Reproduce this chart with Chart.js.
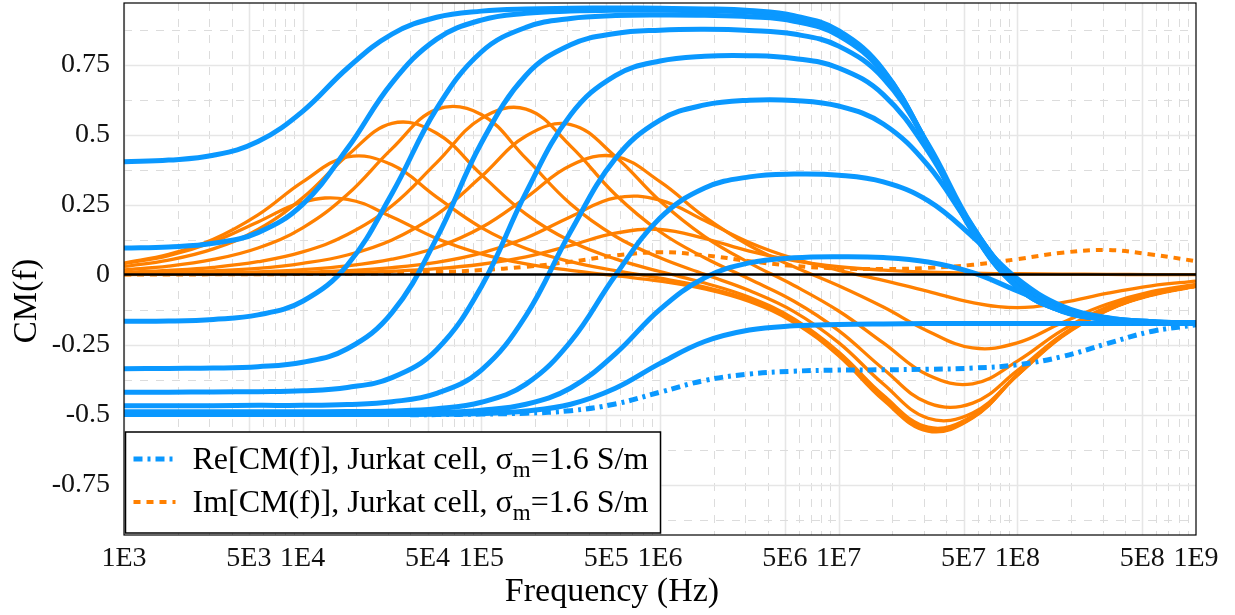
<!DOCTYPE html>
<html>
<head>
<meta charset="utf-8">
<script src="https://cdn.jsdelivr.net/npm/chart.js@4.4.1/dist/chart.umd.min.js"></script>
<style>
  html, body { margin: 0; padding: 0; background: #fff; }
  #wrap { width: 1235px; height: 615px; }
</style>
</head>
<body>
<div id="wrap"><canvas id="cmChart"></canvas></div>
<script>
// frequency samples, quarter decades from 1E3 to 1E9 (Hz)
const freq = [1e3, 1778, 3162, 5623, 1e4, 17783, 31623, 56234, 1e5, 177828, 316228, 562341,
  1e6, 1778279, 3162278, 5623413, 1e7, 17782794, 31622777, 56234133, 1e8, 177827941, 316227766, 562341325, 1e9];

// Re[CM(f)], solid blue curves
const re1 = [0.403, 0.409, 0.426, 0.475, 0.583, 0.737, 0.859, 0.919, 0.941, 0.949, 0.951, 0.952, 0.951, 0.949, 0.943, 0.925, 0.871, 0.731, 0.461, 0.152, -0.046, -0.131, -0.161, -0.170, -0.174];
const re2 = [0.095, 0.099, 0.112, 0.150, 0.251, 0.450, 0.685, 0.841, 0.909, 0.933, 0.941, 0.944, 0.944, 0.942, 0.937, 0.919, 0.866, 0.728, 0.462, 0.155, -0.045, -0.130, -0.160, -0.170, -0.174];
const re3 = [-0.167, -0.166, -0.160, -0.144, -0.095, 0.034, 0.290, 0.593, 0.795, 0.883, 0.915, 0.925, 0.927, 0.926, 0.921, 0.905, 0.854, 0.720, 0.460, 0.156, -0.044, -0.130, -0.160, -0.170, -0.174];
const re4 = [-0.336, -0.335, -0.334, -0.329, -0.313, -0.265, -0.136, 0.130, 0.470, 0.712, 0.821, 0.861, 0.873, 0.876, 0.872, 0.859, 0.816, 0.701, 0.466, 0.172, -0.033, -0.126, -0.159, -0.170, -0.173];
const re5 = [-0.420, -0.420, -0.419, -0.418, -0.415, -0.403, -0.368, -0.268, -0.043, 0.293, 0.571, 0.711, 0.763, 0.780, 0.782, 0.772, 0.738, 0.643, 0.441, 0.170, -0.030, -0.124, -0.158, -0.170, -0.173];
const re6 = [-0.468, -0.468, -0.468, -0.467, -0.467, -0.464, -0.454, -0.424, -0.341, -0.146, 0.154, 0.414, 0.552, 0.606, 0.623, 0.622, 0.602, 0.538, 0.390, 0.164, -0.026, -0.121, -0.157, -0.169, -0.173];
const re7 = [-0.490, -0.490, -0.490, -0.490, -0.490, -0.489, -0.487, -0.479, -0.456, -0.391, -0.239, -0.003, 0.202, 0.309, 0.349, 0.359, 0.355, 0.331, 0.264, 0.135, -0.015, -0.112, -0.153, -0.168, -0.173];
const re8 = [-0.495, -0.495, -0.495, -0.495, -0.495, -0.495, -0.494, -0.492, -0.484, -0.463, -0.405, -0.283, -0.124, -0.011, 0.042, 0.060, 0.064, 0.061, 0.045, 0.007, -0.058, -0.120, -0.155, -0.168, -0.173];
const re9 = [-0.500, -0.500, -0.500, -0.500, -0.500, -0.500, -0.500, -0.499, -0.496, -0.487, -0.463, -0.406, -0.317, -0.239, -0.198, -0.183, -0.178, -0.176, -0.175, -0.175, -0.175, -0.175, -0.175, -0.175, -0.175];
// Re[CM(f)], Jurkat cell (dash-dot)
const reJurkat = [-0.500, -0.500, -0.500, -0.500, -0.500, -0.500, -0.500, -0.500, -0.498, -0.495, -0.486, -0.462, -0.420, -0.378, -0.355, -0.345, -0.341, -0.340, -0.338, -0.334, -0.322, -0.293, -0.247, -0.203, -0.179];

// Im[CM(f)], solid orange curves
const im1 = [0.039, 0.068, 0.117, 0.188, 0.259, 0.269, 0.206, 0.129, 0.074, 0.038, 0.015, -0.004, -0.023, -0.051, -0.096, -0.171, -0.290, -0.448, -0.559, -0.512, -0.359, -0.219, -0.127, -0.072, -0.041];
const im2 = [0.041, 0.072, 0.126, 0.213, 0.331, 0.420, 0.392, 0.277, 0.168, 0.093, 0.046, 0.014, -0.013, -0.045, -0.091, -0.167, -0.286, -0.442, -0.554, -0.510, -0.359, -0.219, -0.127, -0.072, -0.041];
const im3 = [0.029, 0.052, 0.092, 0.161, 0.274, 0.425, 0.540, 0.505, 0.357, 0.216, 0.119, 0.056, 0.011, -0.030, -0.081, -0.158, -0.276, -0.431, -0.545, -0.505, -0.358, -0.219, -0.127, -0.072, -0.041];
const im4 = [0.017, 0.030, 0.054, 0.095, 0.167, 0.286, 0.450, 0.590, 0.572, 0.415, 0.252, 0.137, 0.060, 0.001, -0.057, -0.132, -0.243, -0.391, -0.513, -0.494, -0.359, -0.222, -0.129, -0.074, -0.042];
const im5 = [0.008, 0.015, 0.026, 0.046, 0.081, 0.143, 0.246, 0.400, 0.558, 0.591, 0.459, 0.286, 0.153, 0.060, -0.016, -0.095, -0.200, -0.337, -0.458, -0.459, -0.343, -0.215, -0.125, -0.072, -0.040];
const im6 = [0.004, 0.007, 0.013, 0.022, 0.040, 0.070, 0.124, 0.214, 0.350, 0.495, 0.536, 0.422, 0.263, 0.136, 0.042, -0.039, -0.130, -0.244, -0.359, -0.390, -0.309, -0.199, -0.117, -0.068, -0.038];
const im7 = [0.002, 0.003, 0.006, 0.010, 0.018, 0.031, 0.055, 0.097, 0.168, 0.275, 0.390, 0.422, 0.332, 0.206, 0.104, 0.028, -0.040, -0.116, -0.202, -0.262, -0.244, -0.172, -0.106, -0.061, -0.035];
const im8 = [0.001, 0.001, 0.003, 0.004, 0.008, 0.014, 0.025, 0.044, 0.077, 0.131, 0.207, 0.274, 0.266, 0.193, 0.115, 0.057, 0.015, -0.021, -0.060, -0.100, -0.118, -0.100, -0.067, -0.040, -0.023];
const im9 = [0.000, 0.001, 0.001, 0.002, 0.004, 0.007, 0.012, 0.021, 0.037, 0.063, 0.104, 0.148, 0.161, 0.129, 0.084, 0.050, 0.028, 0.016, 0.009, 0.005, 0.003, 0.002, 0.001, 0.000, 0.000];
// Im[CM(f)], Jurkat cell (dashed)
const imJurkat = [0.000, 0.000, 0.001, 0.001, 0.002, 0.003, 0.005, 0.009, 0.016, 0.028, 0.046, 0.068, 0.080, 0.069, 0.048, 0.031, 0.022, 0.020, 0.024, 0.035, 0.055, 0.078, 0.088, 0.072, 0.048];

const xTicks = [1e3, 5e3, 1e4, 5e4, 1e5, 5e5, 1e6, 5e6, 1e7, 5e7, 1e8, 5e8, 1e9];
const yTicks = [-0.75, -0.5, -0.25, 0, 0.25, 0.5, 0.75];

const BLUE = '#0a98ff';
const ORANGE = '#ff8000';
const SERIF = "'Liberation Serif', 'DejaVu Serif', serif";

function pts(vals) {
  return freq.map((f, i) => ({ x: f, y: vals[i] }));
}

const datasets = [];
[re1, re2, re3, re4, re5, re6, re7, re8, re9].forEach(v => {
  datasets.push({ data: pts(v), borderColor: BLUE, borderWidth: 5 });
});
datasets.push({ label: 'Re[CM(f)], Jurkat cell', data: pts(reJurkat), borderColor: BLUE, borderWidth: 5, borderDash: [9, 5, 3, 5] });
[im1, im2, im3, im4, im5, im6, im7, im8, im9].forEach(v => {
  datasets.push({ data: pts(v), borderColor: ORANGE, borderWidth: 3.3 });
});
datasets.push({ label: 'Im[CM(f)], Jurkat cell', data: pts(imJurkat), borderColor: ORANGE, borderWidth: 4, borderDash: [7, 6] });

const legendRows = [
  { ds: 9, text: 'Re[CM(f)], Jurkat cell, σ', sub: 'm', tail: '=1.6 S/m' },
  { ds: 19, text: 'Im[CM(f)], Jurkat cell, σ', sub: 'm', tail: '=1.6 S/m' }
];

// grid: solid at 1 and 5 per decade / every 0.25, dashed in between
const gridPlugin = {
  id: 'cmGrid',
  beforeDatasetsDraw(chart) {
    const { ctx, chartArea: a, scales: { x, y } } = chart;
    ctx.save();
    ctx.beginPath();
    ctx.rect(a.left, a.top, a.right - a.left, a.bottom - a.top);
    ctx.clip();
    const seg = (x1, y1, x2, y2, major) => {
      ctx.beginPath();
      ctx.strokeStyle = major ? '#e6e6e6' : '#dcdcdc';
      ctx.lineWidth = major ? 1.6 : 1;
      ctx.setLineDash(major ? [] : [8, 8]);
      ctx.moveTo(x1, y1);
      ctx.lineTo(x2, y2);
      ctx.stroke();
    };
    for (let e = 3; e <= 8; e++) {
      for (let m = 1; m <= 9; m++) {
        const px = Math.round(x.getPixelForValue(m * Math.pow(10, e))) + 0.5;
        seg(px, a.top, px, a.bottom, m === 1 || m === 5);
      }
    }
    for (let k = -7; k <= 7; k++) {
      if (k === 0) continue;
      const py = Math.round(y.getPixelForValue(k * 0.125)) + 0.5;
      seg(a.left, py, a.right, py, k % 2 === 0);
    }
    ctx.restore();
  },
  afterDatasetsDraw(chart) {
    const { ctx, chartArea: a, scales: { y } } = chart;
    ctx.save();
    ctx.setLineDash([]);
    ctx.strokeStyle = '#000';
    ctx.lineWidth = 2.5;
    const y0 = y.getPixelForValue(0);
    ctx.beginPath();
    ctx.moveTo(a.left, y0);
    ctx.lineTo(a.right, y0);
    ctx.stroke();
    ctx.lineWidth = 1.2;
    ctx.strokeRect(a.left, a.top, a.right - a.left, a.bottom - a.top);
    ctx.restore();
  },
  afterDraw(chart) {
    const { ctx, chartArea: a } = chart;
    ctx.save();
    ctx.fillStyle = '#000';
    // axis titles
    ctx.font = '34px ' + SERIF;
    ctx.textAlign = 'center';
    ctx.textBaseline = 'middle';
    ctx.fillText('Frequency (Hz)', 612, 592);
    ctx.save();
    ctx.translate(27, 301);
    ctx.rotate(-Math.PI / 2);
    ctx.font = '33px ' + SERIF;
    ctx.fillText('CM(f)', 0, 0);
    ctx.restore();

    // legend box
    const bx = a.left + 1.5, by = 432, bw = 535, bh = 101;
    ctx.fillStyle = '#fff';
    ctx.fillRect(bx, by, bw, bh);
    ctx.strokeStyle = '#000';
    ctx.lineWidth = 1.5;
    ctx.strokeRect(bx, by, bw, bh);
    legendRows.forEach((row, i) => {
      const ds = chart.data.datasets[row.ds];
      const ly = by + 27 + i * 43;
      ctx.beginPath();
      ctx.strokeStyle = ds.borderColor;
      ctx.lineWidth = ds.borderWidth;
      ctx.setLineDash(ds.borderDash || []);
      ctx.moveTo(bx + 8, ly);
      ctx.lineTo(bx + 50, ly);
      ctx.stroke();
      ctx.setLineDash([]);
      ctx.fillStyle = '#000';
      ctx.textAlign = 'left';
      ctx.textBaseline = 'alphabetic';
      let tx = bx + 67;
      const base = ly + 10;
      ctx.font = '32px ' + SERIF;
      ctx.fillText(row.text, tx, base);
      tx += ctx.measureText(row.text).width;
      ctx.font = '23px ' + SERIF;
      ctx.fillText(row.sub, tx, base + 8);
      tx += ctx.measureText(row.sub).width;
      ctx.font = '32px ' + SERIF;
      ctx.fillText(row.tail, tx, base);
    });
    ctx.restore();
  }
};

new Chart(document.getElementById('cmChart'), {
  type: 'line',
  data: { datasets },
  options: {
    responsive: true,
    maintainAspectRatio: false,
    animation: false,
    events: [],
    layout: { padding: { left: 0, right: 39, top: 3, bottom: 0 } },
    elements: {
      point: { radius: 0 },
      line: { tension: 0.4, fill: false }
    },
    plugins: {
      legend: { display: false },
      tooltip: { enabled: false }
    },
    scales: {
      x: {
        type: 'logarithmic',
        min: 1e3,
        max: 1e9,
        grid: { display: false, drawTicks: false },
        border: { display: false },
        afterBuildTicks: s => { s.ticks = xTicks.map(v => ({ value: v })); },
        afterFit: s => { s.height = 80; s.paddingLeft = 0; s.paddingRight = 0; },
        ticks: {
          autoSkip: false,
          maxRotation: 0,
          padding: 7,
          color: '#111',
          font: { family: SERIF, size: 28 },
          callback: v => {
            const e = Math.floor(Math.log10(v) + 1e-9);
            return Math.round(v / Math.pow(10, e)) + 'E' + e;
          }
        }
      },
      y: {
        min: -0.93,
        max: 0.97,
        grid: { display: false, drawTicks: false },
        border: { display: false },
        afterBuildTicks: s => { s.ticks = yTicks.map(v => ({ value: v })); },
        afterFit: s => { s.width = 124; s.paddingTop = 0; s.paddingBottom = 0; },
        ticks: {
          padding: 14,
          color: '#111',
          font: { family: SERIF, size: 28 },
          callback: v => String(v)
        }
      }
    }
  },
  plugins: [gridPlugin]
});
</script>
</body>
</html>
